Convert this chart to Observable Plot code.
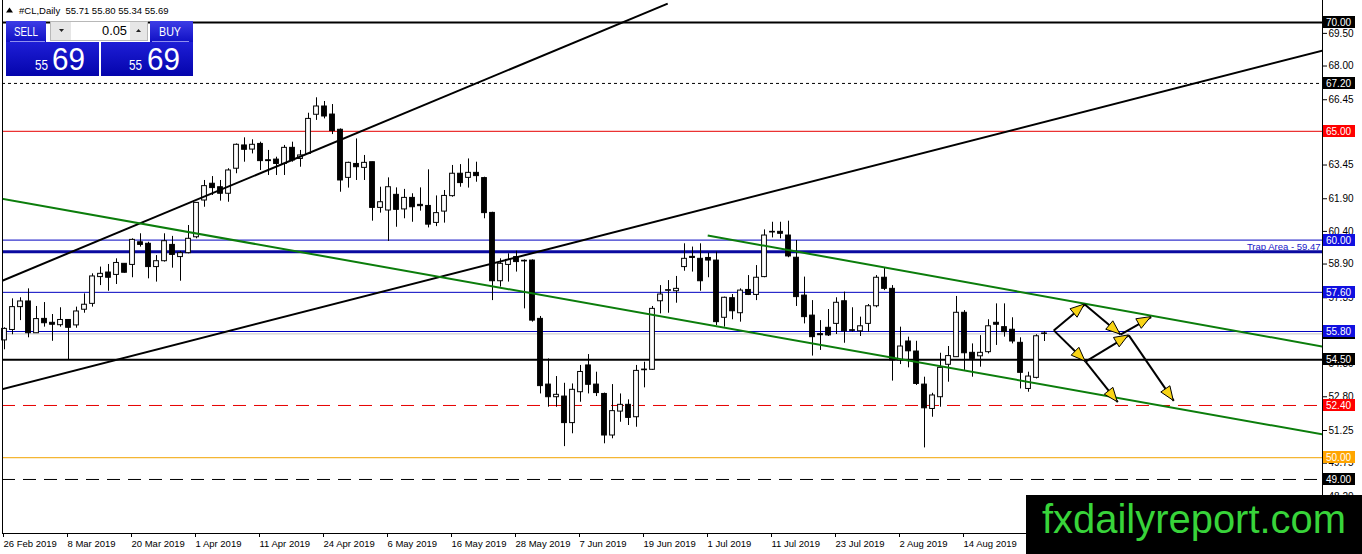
<!DOCTYPE html>
<html>
<head>
<meta charset="utf-8">
<script src="https://cdn.jsdelivr.net/npm/d3@7"></script>
<script src="https://cdn.jsdelivr.net/npm/@observablehq/plot@0.6"></script>
<style>
  html, body { margin: 0; padding: 0; background: #fff; }
  body { width: 1362px; height: 554px; overflow: hidden; position: relative; font-family: "Liberation Sans", Arial, sans-serif; }
  #chart { position: absolute; left: 0; top: 0; }
  #overlay { position: absolute; left: 0; top: 0; pointer-events: none; }
</style>
</head>
<body>
<div id="chart"></div>
<svg id="overlay" width="1362" height="554" xmlns="http://www.w3.org/2000/svg" font-family="Liberation Sans, Arial, sans-serif">
  <defs>
    <linearGradient id="gBtn" x1="0" y1="0" x2="0" y2="1">
      <stop offset="0" stop-color="#3d3de6"/>
      <stop offset="1" stop-color="#1010c4"/>
    </linearGradient>
    <linearGradient id="gBox" x1="0" y1="0" x2="0" y2="1">
      <stop offset="0" stop-color="#1e1ed6"/>
      <stop offset="1" stop-color="#0404ac"/>
    </linearGradient>
  </defs>
  <!-- header -->
  <path d="M6,12.5 L9.5,7.5 L13,12.5 Z" fill="#000"/>
  <text x="19" y="13.5" font-size="9.5" fill="#000" xml:space="preserve">#CL,Daily  55.71 55.80 55.34 55.69</text>
  <!-- one-click trading panel -->
  <rect x="6" y="21" width="40" height="21" fill="url(#gBtn)"/>
  <line x1="10" y1="41.5" x2="45" y2="41.5" stroke="#8f8fef" stroke-width="1"/>
  <text x="26" y="36" font-size="13" fill="#fff" text-anchor="middle" textLength="24" lengthAdjust="spacingAndGlyphs">SELL</text>
  <rect x="150" y="21" width="43" height="21" fill="url(#gBtn)"/>
  <line x1="152" y1="41.5" x2="189" y2="41.5" stroke="#8f8fef" stroke-width="1"/>
  <text x="170" y="36" font-size="13" fill="#fff" text-anchor="middle" textLength="22" lengthAdjust="spacingAndGlyphs">BUY</text>
  <rect x="50.5" y="21.5" width="97" height="19" fill="#fff" stroke="#b8b8b8"/>
  <rect x="51" y="22" width="20" height="18" fill="#e6e6e6"/>
  <rect x="130" y="22" width="17" height="18" fill="#e6e6e6"/>
  <path d="M59,29 L64,29 L61.5,32 Z" fill="#222"/>
  <path d="M136,32 L141,32 L138.5,29 Z" fill="#222"/>
  <text x="127" y="35" font-size="13" fill="#000" text-anchor="end" textLength="25" lengthAdjust="spacingAndGlyphs">0.05</text>
  <rect x="6" y="42" width="93" height="34" fill="url(#gBox)"/>
  <rect x="101" y="42" width="92" height="34" fill="url(#gBox)"/>
  <text x="35" y="70" font-size="14" fill="#fff" textLength="13" lengthAdjust="spacingAndGlyphs">55</text>
  <text x="52" y="70" font-size="31" fill="#fff" textLength="33" lengthAdjust="spacingAndGlyphs">69</text>
  <text x="129" y="70" font-size="14" fill="#fff" textLength="13" lengthAdjust="spacingAndGlyphs">55</text>
  <text x="147" y="70" font-size="31" fill="#fff" textLength="33" lengthAdjust="spacingAndGlyphs">69</text>
  <!-- watermark -->
  <rect x="1026" y="495" width="336" height="59" fill="#000"/>
  <text x="1042" y="533" font-size="40" fill="#38d43a" textLength="304" lengthAdjust="spacingAndGlyphs">fxdailyreport.com</text>
</svg>
<script>
// ---------------- data ----------------
const xLabels = ["26 Feb 2019","8 Mar 2019","20 Mar 2019","1 Apr 2019","11 Apr 2019","24 Apr 2019","6 May 2019","16 May 2019","28 May 2019","7 Jun 2019","19 Jun 2019","1 Jul 2019","11 Jul 2019","23 Jul 2019","2 Aug 2019","14 Aug 2019"];
const labelStep = 8; // bars between date labels

const open = [55.39,55.87,56.92,57.18,55.72,56.38,56.20,56.09,56.33,56.08,56.80,57.07,58.30,58.51,58.40,58.91,58.86,59.90,59.83,58.76,
59.03,59.78,59.22,59.40,60.13,61.82,62.59,62.43,62.13,63.28,64.35,64.16,64.42,63.67,63.70,63.50,64.24,63.73,63.96,65.76,
66.14,65.77,65.07,62.86,63.50,63.32,63.58,61.48,61.36,62.08,61.41,61.94,61.62,61.57,60.79,61.31,62.02,63.05,62.86,63.09,
62.85,61.25,58.11,58.86,59.22,59.05,59.06,56.38,53.36,52.78,52.81,51.59,53.01,54.24,53.36,52.93,51.02,52.12,52.43,51.86,
54.02,54.04,57.19,57.67,57.65,58.76,59.23,59.14,59.18,59.06,56.43,57.33,56.64,57.71,57.48,58.30,60.35,60.38,60.21,59.19,
57.45,56.53,55.68,55.97,56.15,57.19,55.86,55.81,56.15,56.96,58.27,57.76,54.47,55.34,54.88,53.36,52.24,52.78,54.27,54.62,
56.66,54.82,54.66,54.85,56.20,56.00,55.88,55.28,53.16,53.67,55.71];
const high = [55.97,57.30,57.35,57.76,56.95,57.13,56.58,56.89,56.33,56.92,57.53,58.45,58.76,58.88,59.14,58.91,60.06,60.29,59.90,59.29,
60.29,60.17,59.48,60.67,61.71,62.74,62.92,62.74,63.28,64.42,64.70,64.61,64.50,64.12,63.81,64.35,64.50,64.12,65.83,66.54,
66.37,66.23,65.11,63.58,64.65,63.89,63.58,62.43,62.86,62.40,62.33,62.13,62.40,63.23,62.03,62.28,63.43,63.47,63.73,63.58,
62.89,61.28,59.14,59.37,59.49,59.09,59.09,56.49,54.54,53.73,53.42,53.39,54.24,54.74,53.93,52.97,53.36,52.93,52.66,54.24,
54.39,56.95,57.91,58.14,58.33,59.83,59.68,59.83,59.40,59.45,57.38,57.50,57.76,58.37,58.83,60.47,60.82,60.82,60.87,59.98,
58.30,57.22,56.30,56.81,57.35,57.61,56.89,56.46,57.04,58.37,58.72,57.91,56.00,55.54,55.35,53.70,52.96,54.80,55.11,57.41,
56.76,55.23,55.61,56.34,57.07,57.07,56.43,55.51,53.93,55.65,55.80];
const low = [54.96,55.65,56.30,55.51,55.72,56.00,55.35,56.00,54.47,55.95,56.64,56.92,57.91,57.65,57.96,58.48,58.27,59.68,58.22,58.07,
58.99,58.71,58.11,59.37,60.06,61.51,62.05,61.79,61.74,63.05,63.58,63.96,63.20,62.97,62.97,62.97,63.58,63.35,63.93,65.50,
65.57,64.85,62.20,62.39,62.74,62.74,60.87,61.24,59.94,60.59,60.98,60.82,61.33,60.56,60.62,60.78,61.97,62.43,62.39,62.66,
60.98,57.22,57.84,58.07,58.53,56.84,56.23,52.93,52.32,52.32,50.51,51.10,52.55,52.93,52.81,50.64,50.87,51.63,51.48,51.40,
53.21,54.01,56.61,56.64,57.10,58.57,58.53,57.65,58.27,56.07,56.00,56.34,56.23,57.45,57.22,58.27,60.10,60.06,59.19,56.95,
56.15,54.67,54.93,55.57,55.66,55.26,55.77,55.57,55.77,56.89,57.68,53.52,54.28,54.13,53.32,50.45,51.86,52.32,53.47,54.62,
54.01,53.70,54.16,54.77,55.16,55.54,55.23,53.16,53.01,53.62,55.34];
const close = [55.92,56.92,57.18,55.72,56.37,56.18,56.11,56.33,55.97,56.72,57.03,58.33,58.45,58.27,58.95,58.50,60.01,59.78,58.76,59.03,
59.95,59.32,59.40,60.06,61.71,62.48,62.39,62.13,63.20,64.38,64.15,64.38,63.63,63.63,63.50,64.24,63.66,63.89,65.57,66.14,
65.68,65.01,62.74,63.55,63.35,63.55,61.48,61.74,62.43,61.39,61.94,61.51,61.56,60.71,61.24,62.03,63.05,62.62,63.09,62.94,
61.24,58.11,58.91,59.09,58.99,59.02,56.30,53.29,52.78,52.89,51.59,53.12,53.94,53.35,52.97,51.02,52.14,52.43,51.83,53.99,
54.05,56.84,57.50,57.70,57.76,59.14,59.18,58.11,59.06,56.23,57.35,56.73,57.68,57.48,58.27,60.21,60.38,60.29,59.25,57.38,
56.46,55.54,55.63,55.62,57.12,55.81,55.83,56.04,56.96,58.27,57.76,54.47,55.11,54.89,53.39,52.27,52.86,54.13,54.67,56.66,
54.80,54.54,54.82,56.04,56.11,55.77,55.34,53.90,53.73,55.58,55.69];

// scale labels that the reference shows (64.95 is fully covered by the 65.00 tag)
const yTicks = [69.50,68.00,66.45,63.45,61.90,60.40,58.90,57.35,55.85,54.30,52.80,51.25,49.75,48.20];

// horizontal levels
const levelPrices = [55.69, 70.00, 67.20, 65.00, 60.00, 59.47, 57.60, 55.80, 54.50, 52.40, 50.00, 49.00];
const levelColors = ["#c4c4c4","#000000","#000000","#e60000","#0000c0","#0a0aa0","#0000c0","#0000c0","#000000","#e60000","#f2a400","#000000"];
const levelWidths = [1, 2, 1, 1, 1, 3, 1, 1, 2, 1, 1, 1];
const levelDashes = ["none","none","3,3","none","none","none","none","none","none","13,8","none","13,8"];

// price tags on the right scale
const tagPrices = [70.00, 67.20, 65.00, 60.00, 57.60, 55.69, 55.80, 54.50, 52.40, 50.00, 49.00];
const tagColors = ["#000000","#000000","#ff0000","#1010e0","#1010e0","#000000","#1010e0","#000000","#ff0000","#ffa500","#000000"];

const trapLevel = 59.47;

// trend lines (bar index, price)
const trendX1 = [-0.5, -0.5, -0.5, 87.9];
const trendY1 = [58.10, 53.13, 61.91, 60.21];
const trendX2 = [82.9, 164.75, 164.75, 164.75];
const trendY2 = [70.87, 68.71, 51.07, 55.11];
const trendColors = ["#000000", "#000000", "#0b7d0b", "#0b7d0b"];

// projected path arrows (bar index, price)
const arrowX1 = [131.16, 135.04, 139.50, 131.16, 135.13, 140.54, 135.13];
const arrowY1 = [55.85, 57.04, 55.66, 55.85, 54.42, 55.62, 54.42];
const arrowX2 = [135.04, 139.50, 143.34, 135.13, 140.54, 146.16, 139.16];
const arrowY2 = [57.04, 55.66, 56.46, 54.42, 55.62, 52.61, 52.55];

// ---------------- tables ----------------
const candles = close.map((c, i) => ({i, o: open[i], h: high[i], l: low[i], c, up: c >= open[i]}));
const trends = trendX1.map((x1, k) => ({x1, y1: trendY1[k], x2: trendX2[k], y2: trendY2[k], color: trendColors[k]}));
const arrows = arrowX1.map((x1, k) => ({x1, y1: arrowY1[k], x2: arrowX2[k], y2: arrowY2[k]}));

const xDomain = [-0.25, 164.75];
const yDomain = [46.517, 71.011];

function tags(index, scales, values, dim) {
  const g = d3.create("svg:g").attr("text-anchor", "start");
  const x0 = dim.width - dim.marginRight + 1;
  tagPrices.forEach((p, k) => {
    const y = Math.round(scales.y(p));
    g.append("rect").attr("x", x0).attr("y", y - 6).attr("width", 32).attr("height", 12).attr("fill", tagColors[k]);
    g.append("text").attr("x", x0 + 3).attr("y", y).attr("dy", "0.36em").attr("text-anchor", "start")
      .attr("fill", "#fff").attr("font-size", 10).text(p.toFixed(2));
  });
  return g.node();
}

function arrowHeads(index, scales) {
  const g = d3.create("svg:g");
  arrows.forEach(a => {
    const x1 = scales.x(a.x1), y1 = scales.y(a.y1), x2 = scales.x(a.x2), y2 = scales.y(a.y2);
    const len = Math.hypot(x2 - x1, y2 - y1), ux = (x2 - x1) / len, uy = (y2 - y1) / len;
    const L = 14, W = 5.5;
    const bx = x2 - ux * L, by = y2 - uy * L;
    g.append("path")
      .attr("d", `M${x2},${y2}L${bx - uy * W},${by + ux * W}L${bx + uy * W},${by - ux * W}Z`)
      .attr("fill", "#f8d416").attr("stroke", "#000").attr("stroke-width", 1).attr("stroke-linejoin", "round");
  });
  return g.node();
}

const levelMarks = levelPrices.map((p, k) =>
  Plot.ruleY([p], {stroke: levelColors[k], strokeWidth: levelWidths[k], strokeDasharray: levelDashes[k]}));

const chart = Plot.plot({
  width: 1362,
  height: 554,
  marginLeft: 2,
  marginRight: 40,
  marginTop: 0,
  marginBottom: 21,
  x: {type: "linear", domain: xDomain},
  y: {type: "linear", domain: yDomain},
  style: {fontFamily: "Liberation Sans, Arial, sans-serif", fontSize: "10px", background: "#fff", color: "#000"},
  marks: [
    ...levelMarks,
    Plot.ruleX(candles, {x: "i", y1: "l", y2: "h", stroke: "#000", strokeWidth: 1}),
    Plot.rect(candles, {
      x1: d => d.i - 0.3, x2: d => d.i + 0.3,
      y1: d => Math.min(d.o, d.c), y2: d => Math.max(d.o, d.c),
      fill: d => d.up ? "#ffffff" : "#000000", stroke: "#000", strokeWidth: 1
    }),
    Plot.link(trends, {x1: "x1", y1: "y1", x2: "x2", y2: "y2", stroke: "color", strokeWidth: 2, clip: true}),
    Plot.link(arrows, {x1: "x1", y1: "y1", x2: "x2", y2: "y2", stroke: "#000", strokeWidth: 2}),
    arrowHeads,
    Plot.text([trapLevel], {x: xDomain[1], y: d => d, text: d => "Trap Area - " + d.toFixed(2),
      textAnchor: "end", dx: -2, dy: -4.5, fill: "#2020c8", fontSize: 9.5}),
    Plot.ruleX([xDomain[0]], {stroke: "#000"}),
    Plot.ruleX([xDomain[1]], {stroke: "#000"}),
    Plot.ruleY([yDomain[0]], {stroke: "#000"}),
    Plot.axisY({anchor: "right", ticks: yTicks, tickSize: 4, tickPadding: 2,
      tickFormat: d => d.toFixed(2), fontSize: 10}),
    Plot.axisX({anchor: "bottom", ticks: xLabels.map((_, k) => k * labelStep), tickSize: 4, tickPadding: 3,
      tickFormat: d => xLabels[Math.round(d / labelStep)], textAnchor: "start", dx: -1, fontSize: 9.5}),
    tags
  ]
});
document.getElementById("chart").appendChild(chart);
</script>
</body>
</html>
